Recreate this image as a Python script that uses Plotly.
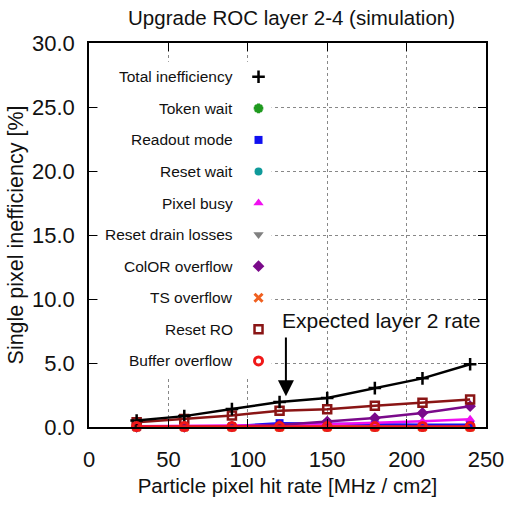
import plotly.graph_objects as go

# ---- data ----
rates = [30, 60, 90, 120, 150, 180, 210, 240]
total = [0.5, 0.85, 1.4, 1.95, 2.26, 3.04, 3.8, 4.9]
token_wait = [0.0, 0.0, 0.0, 0.0, 0.0, 0.0, 0.0, 0.0]
readout_mode = [0.02, 0.03, 0.05, 0.3, 0.25, 0.2, 0.18, 0.17]
reset_wait = [0.0, 0.0, 0.0, 0.0, 0.01, 0.01, 0.01, 0.02]
pixel_busy = [0.05, 0.08, 0.1, 0.15, 0.22, 0.32, 0.45, 0.6]
reset_drain = [0.0, 0.0, 0.0, 0.0, 0.0, 0.0, 0.0, 0.0]
color_overflow = [0.0, 0.01, 0.04, 0.15, 0.42, 0.7, 1.1, 1.63]
ts_overflow = [0.0, 0.0, 0.0, 0.0, 0.0, 0.0, 0.0, 0.0]
reset_ro = [0.38, 0.63, 0.9, 1.27, 1.38, 1.66, 1.9, 2.15]
buffer_overflow = [0.03, 0.03, 0.03, 0.03, 0.03, 0.03, 0.03, 0.03]

series_names = ["Total inefficiency", "Token wait", "Readout mode", "Reset wait",
                "Pixel busy", "Reset drain losses", "ColOR overflow", "TS overflow",
                "Reset RO", "Buffer overflow"]
series_values = [total, token_wait, readout_mode, reset_wait, pixel_busy,
                 reset_drain, color_overflow, ts_overflow, reset_ro, buffer_overflow]

x_ticks = [0, 50, 100, 150, 200, 250]
y_ticks = [0, 5, 10, 15, 20, 25, 30]
y_tick_labels = ["0.0", "5.0", "10.0", "15.0", "20.0", "25.0", "30.0"]

# ---- styles ----
styles = [
    dict(color="#000000", symbol="cross-thin-open", size=9, lw=2.5),
    dict(color="#1f9a1f", symbol="asterisk-open", size=8, lw=3),
    dict(color="#1010f0", symbol="square", size=8, lw=0),
    dict(color="#0f9a9a", symbol="circle", size=8, lw=0),
    dict(color="#f010f0", symbol="triangle-up", size=9, lw=0),
    dict(color="#808080", symbol="triangle-down", size=9, lw=0),
    dict(color="#7a0a8a", symbol="diamond", size=9, lw=0),
    dict(color="#f06020", symbol="x-thin-open", size=8, lw=3),
    dict(color="#8a1515", symbol="square-open", size=8, lw=2.5),
    dict(color="#f01818", symbol="circle-open", size=8, lw=3),
]

FONT = "Liberation Sans, Arial"

fig = go.Figure()

# draw order: small ones first, then the main ones
order = [1, 3, 5, 7, 2, 4, 6, 8, 0, 9]
for i in order:
    st = styles[i]
    fig.add_trace(go.Scatter(
        x=rates, y=series_values[i], mode="lines+markers", name=series_names[i],
        line=dict(color=st["color"], width=2.5),
        marker=dict(symbol=st["symbol"], size=st["size"], color=st["color"],
                    line=dict(color=st["color"], width=st["lw"])),
        showlegend=False, cliponaxis=False,
    ))

# opaque key box hiding the grid (drawn in the key's own overlay frame)
fig.add_trace(go.Scatter(
    x=[0.027, 0.46, 0.46, 0.027, 0.027], y=[0.127, 0.127, 0.951, 0.951, 0.127],
    xaxis="x2", yaxis="y2", mode="lines", fill="toself", fillcolor="white",
    line=dict(width=0, color="white"), showlegend=False, hoverinfo="skip"))

# ---- manual gnuplot-style key (text right-aligned, sample to the right) ----
key_top = 0.912
key_step = 0.0822
key_text_x = 0.368
key_mark_x = 0.427
for k, name in enumerate(series_names):
    st = styles[k]
    yk = key_top - k * key_step
    fig.add_annotation(x=key_text_x, y=yk, xref="x domain", yref="y domain",
                       text=name, showarrow=False, xanchor="right", yanchor="middle",
                       font=dict(family=FONT, size=15.5, color="#111"))
    fig.add_trace(go.Scatter(
        x=[key_mark_x], y=[yk], xaxis="x2", yaxis="y2", mode="markers",
        marker=dict(symbol=st["symbol"], size=st["size"], color=st["color"],
                    line=dict(color=st["color"], width=st["lw"])),
        showlegend=False, hoverinfo="skip"))

# arrow + label
fig.add_annotation(x=124, y=2.4, ax=124, ay=7.1, xref="x", yref="y",
                   axref="x", ayref="y", showarrow=True, arrowhead=2,
                   arrowsize=1.6, arrowwidth=2, arrowcolor="black", text="")
fig.add_annotation(x=120, y=8.3, xref="x", yref="y", text="Expected layer 2 rate",
                   showarrow=False, xanchor="left", yanchor="middle",
                   font=dict(family=FONT, size=21, color="#111"))

fig.update_layout(
    width=516, height=506,
    margin=dict(l=89, r=22, t=43, b=77),
    paper_bgcolor="white", plot_bgcolor="white",
    title=dict(text="Upgrade ROC layer 2-4 (simulation)", x=0.565, xanchor="center",
               y=0.965, yanchor="middle",
               font=dict(family=FONT, size=20.5, color="#111")),
    font=dict(family=FONT, color="#111"),
    xaxis=dict(range=[0, 250], tickvals=x_ticks, ticks="inside", ticklen=8,
               tickcolor="black", showline=True, linecolor="black", linewidth=1.5,
               mirror="ticks", showgrid=True, gridcolor="#888", griddash="dot",
               gridwidth=1, zeroline=False, ticklabelstandoff=12,
               tickfont=dict(family=FONT, size=22, color="#111"),
               title=dict(text="Particle pixel hit rate [MHz / cm2]", standoff=7,
                          font=dict(family=FONT, size=20.5, color="#111"))),
    yaxis=dict(range=[0, 30], tickvals=y_ticks, ticktext=y_tick_labels,
               ticks="inside", ticklen=8, tickcolor="black", showline=True,
               linecolor="black", linewidth=1.5, mirror="ticks", showgrid=True,
               gridcolor="#888", griddash="dot", gridwidth=1, zeroline=False,
               ticklabelstandoff=8,
               tickfont=dict(family=FONT, size=22, color="#111"),
               title=dict(text="Single pixel inefficiency [%]", standoff=2,
                          font=dict(family=FONT, size=21.5, color="#111"))),
    xaxis2=dict(overlaying="x", range=[0, 1], visible=False),
    yaxis2=dict(overlaying="y", range=[0, 1], visible=False),
)

fig.write_html("out.html")
